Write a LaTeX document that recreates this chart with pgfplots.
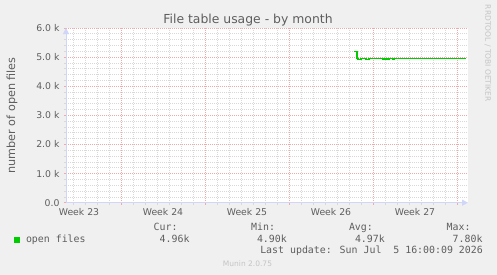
\documentclass[border=0pt]{standalone}
\usepackage{pgfplots}
\pgfplotsset{compat=1.18}
\usepackage{fontspec}
\setmainfont{DejaVu Sans}
\newfontfamily\mono{DejaVu Sans Mono}
\usetikzlibrary{arrows.meta}
\definecolor{bgc}{HTML}{F0F0F0}
\definecolor{fontc}{HTML}{5E5E5E}
\definecolor{axisc}{HTML}{CFD6F8}
\definecolor{mgridc}{HTML}{F2A8A8}
\definecolor{gridc}{HTML}{D8D8D8}
\definecolor{linec}{HTML}{00CC00}
\definecolor{faint}{HTML}{C4C4C4}
\begin{document}
\begin{tikzpicture}
\fill[bgc] (0pt,0pt) rectangle (497pt,275pt);
\useasboundingbox (0pt,0pt) rectangle (497pt,275pt);
\begin{axis}[
  at={(66pt,72.3pt)}, anchor=south west,
  scale only axis, width=402pt, height=174.7pt,
  xmin=-4.583, xmax=28.917, ymin=0, ymax=6000,
  axis lines=left,
  axis line style={draw=axisc, line width=1pt, -{Triangle[length=6pt,width=6pt]}},
  axis background/.style={fill=white},
  xtick={0,7,14,21,28}, xticklabels={},
  minor xtick={-4,-3,-2,-1,1,2,3,4,5,6,8,9,10,11,12,13,15,16,17,18,19,20,22,23,24,25,26,27},
  extra x ticks={-3.5,3.5,10.5,17.5,24.5},
  extra x tick labels={Week 23,Week 24,Week 25,Week 26,Week 27},
  extra x tick style={grid=none, major tick length=0pt, tick label style={yshift=-2.5pt}},
  ytick={0,1000,2000,3000,4000,5000,6000},
  yticklabels={0.0,1.0 k,2.0 k,3.0 k,4.0 k,5.0 k,6.0 k},
  minor ytick={200,400,600,800,1200,1400,1600,1800,2200,2400,2600,2800,3200,3400,3600,3800,4200,4400,4600,4800,5200,5400,5600,5800},
  grid=both,
  major grid style={draw=mgridc, dash pattern=on 1pt off 1pt, line width=0.7pt},
  minor grid style={draw=gridc, dash pattern=on 1pt off 1pt, line width=0.7pt},
  tick align=outside,
  major tick length=2pt, minor tick length=2pt,
  major tick style={draw=mgridc, line width=0.7pt},
  minor tick style={draw=gridc, line width=0.7pt},
  tick label style={font=\fontsize{9.3}{11}\selectfont, text=fontc},
  yticklabel style={xshift=-1pt},
  clip=false,
]
\addplot[const plot, draw=linec, line width=1.15pt] coordinates {
  (19.417,5180) (19.667,4940) (19.75,4930) (20.0,4965) (20.417,4930)
  (20.667,4965) (21.833,4935) (22.0,4965) (22.167,4935) (22.333,4965)
  (22.667,4935) (22.75,4965) (28.75,4965)
};
\end{axis}
\node[anchor=base, font=\fontsize{12.4}{14}\selectfont, text=fontc] at (248pt,251pt) {File table usage - by month};
\node[anchor=base, rotate=90, font=\fontsize{11.2}{13}\selectfont, text=fontc, inner sep=0pt] at (15pt,159.7pt) {number of open files};
\node[anchor=base, rotate=-90, font=\fontsize{7.5}{9}\selectfont, text=faint, inner sep=0pt] at (485.3pt,221.7pt) {RRDTOOL / TOBI OETIKER};
\fill[linec] (14pt,32pt) rectangle (20pt,38pt);
\begin{scope}[every node/.style={anchor=base west, inner sep=0pt, font=\mono\fontsize{9.9}{12}\selectfont, text=fontc}]
\node at (153.5pt,44pt) {Cur:};
\node at (251pt,44pt) {Min:};
\node at (348.8pt,44pt) {Avg:};
\node at (446.5pt,44pt) {Max:};
\node at (25.8pt,32.7pt) {open files};
\node at (159.5pt,32.7pt) {4.96k};
\node at (256.8pt,32.7pt) {4.90k};
\node at (354.8pt,32.7pt) {4.97k};
\node at (452.5pt,32.7pt) {7.80k};
\end{scope}
\node[anchor=base east, inner sep=0pt, font=\mono\fontsize{9.9}{12}\selectfont, text=fontc] at (483pt,21pt) {Last update: Sun Jul\ \ 5 16:00:09 2026};
\node[anchor=base, inner sep=0pt, font=\fontsize{7.5}{9}\selectfont, text=faint] at (247.5pt,8.3pt) {Munin 2.0.75};
\end{tikzpicture}
\end{document}
